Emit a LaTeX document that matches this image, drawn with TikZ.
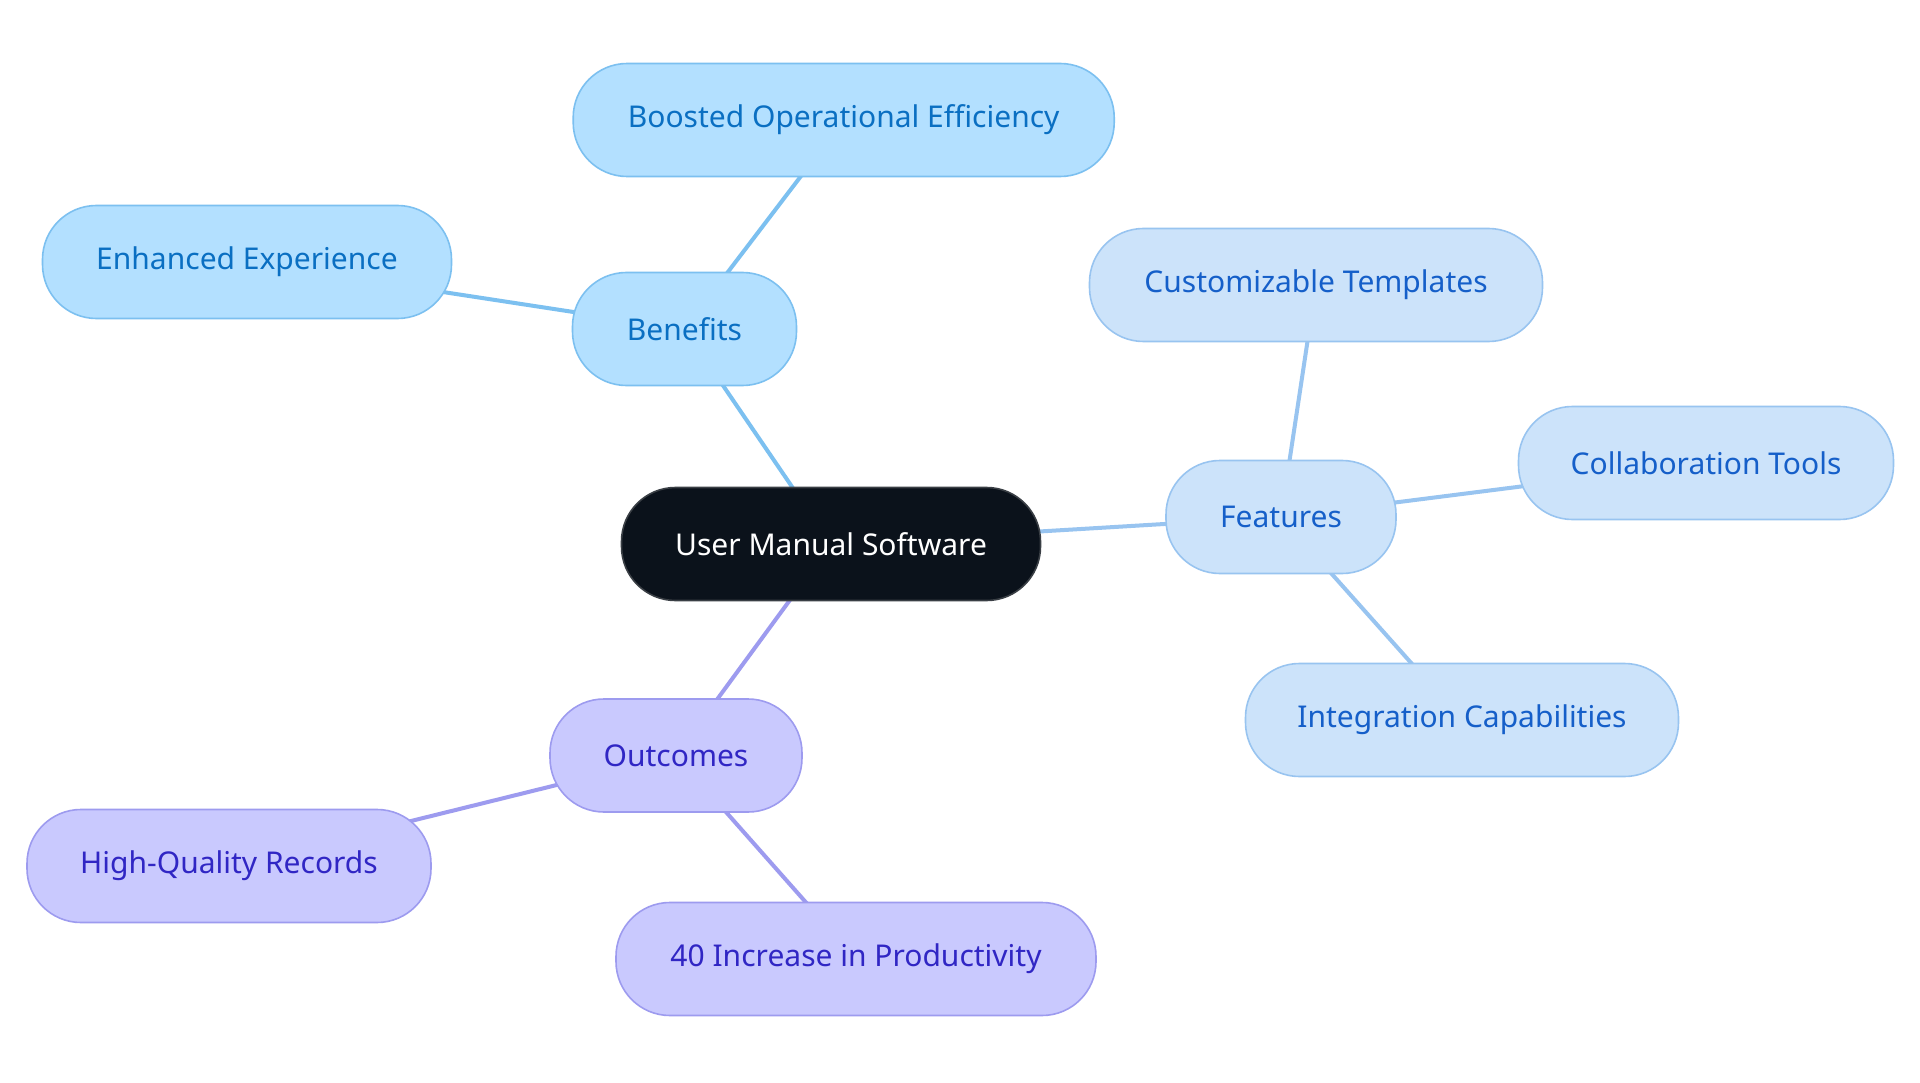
\documentclass[tikz,border=0pt]{standalone}
\usepackage{fontspec}
\setmainfont{Noto Sans}
\usetikzlibrary{backgrounds}
\definecolor{cfill}{HTML}{0B121B}
\definecolor{cdraw}{HTML}{3A3F45}
\definecolor{bfill}{HTML}{B3E0FF}
\definecolor{bdraw}{HTML}{7CC0F0}
\definecolor{btext}{HTML}{0A6FC2}
\definecolor{ffill}{HTML}{CCE3FA}
\definecolor{fdraw}{HTML}{98C4F0}
\definecolor{ftext}{HTML}{155FC9}
\definecolor{ofill}{HTML}{C9C9FE}
\definecolor{odraw}{HTML}{9D9BEF}
\definecolor{otext}{HTML}{3026C4}
\tikzset{
  x=1pt, y=-1pt,
  pill/.style={rectangle, rounded corners=54pt, minimum height=113pt, inner sep=0pt, line width=1.6pt, font=\fontsize{30}{35}\selectfont},
  central/.style={pill, fill=cfill, draw=cdraw, text=white},
  bnode/.style={pill, fill=bfill, draw=bdraw, text=btext},
  fnode/.style={pill, fill=ffill, draw=fdraw, text=ftext},
  onode/.style={pill, fill=ofill, draw=odraw, text=otext},
  bedge/.style={draw=bdraw, line width=4pt},
  fedge/.style={draw=fdraw, line width=4pt},
  oedge/.style={draw=odraw, line width=4pt},
}
\begin{document}
\begin{tikzpicture}
\useasboundingbox (0,0) rectangle (1920,1083);
\node[central, minimum width=419pt] (c) at (831,544) {User Manual Software};
\node[bnode, minimum width=224pt] (ben) at (684.5,329) {Benefits};
\node[bnode, minimum width=541pt] (boo) at (843.7,120) {Boosted Operational Efficiency};
\node[bnode, minimum width=409pt] (enh) at (247,262) {Enhanced Experience};
\node[fnode, minimum width=230pt] (fea) at (1281,517) {Features};
\node[fnode, minimum width=453pt] (cus) at (1316,285) {Customizable Templates};
\node[fnode, minimum width=375pt] (col) at (1706,463) {Collaboration Tools};
\node[fnode, minimum width=433pt] (int) at (1462,720) {Integration Capabilities};
\node[onode, minimum width=252pt] (out) at (676,755.5) {Outcomes};
\node[onode, minimum width=404pt] (hqr) at (229,866) {High-Quality Records};
\node[onode, minimum width=480pt] (inc) at (856,959) {40 Increase in Productivity};
\begin{pgfonlayer}{background}
\fill[white] (0,0) rectangle (1920,1083);
\draw[bedge] (c.center) -- (ben.center);
\draw[bedge] (ben.center) -- (boo.center);
\draw[bedge] (ben.center) -- (enh.center);
\draw[fedge] (c.center) -- (fea.center);
\draw[fedge] (fea.center) -- (cus.center);
\draw[fedge] (fea.center) -- (col.center);
\draw[fedge] (fea.center) -- (int.center);
\draw[oedge] (c.center) -- (out.center);
\draw[oedge] (out.center) -- (hqr.center);
\draw[oedge] (out.center) -- (inc.center);
\end{pgfonlayer}
\end{tikzpicture}
\end{document}
